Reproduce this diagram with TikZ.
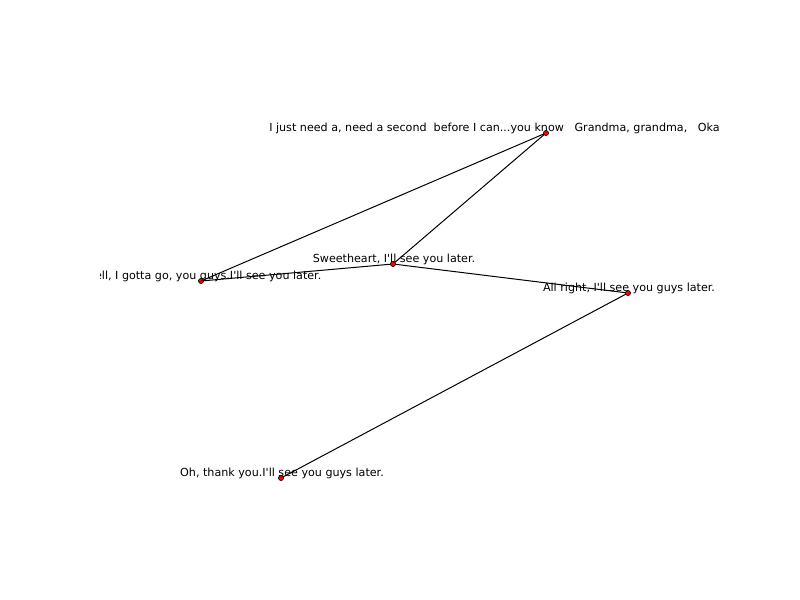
\documentclass[tikz,border=0pt]{standalone}
\usepackage{fontspec}
\setmainfont{DejaVu Sans}[Ligatures = TeXOff]
\begin{document}
\begin{tikzpicture}[x = 0.75pt, y = -0.75pt]
  \tikzset{
    dot/.style = {circle, draw = black, fill = red, inner sep = 0pt, minimum size = 3.8pt, line width = 0.5pt},
    txt/.style = {font = \fontsize{8.35}{10}\selectfont, inner sep = 0pt}
  }
  \useasboundingbox (0, 0) rectangle (800, 600);
  \clip (100, 72) rectangle (720, 534);

  \coordinate (A) at (546, 133);
  \coordinate (B) at (393, 264);
  \coordinate (C) at (201, 281);
  \coordinate (D) at (628, 293);
  \coordinate (E) at (281, 478);

  \draw[line width = 0.75pt] (A) -- (C);
  \draw[line width = 0.75pt] (A) -- (B);
  \draw[line width = 0.75pt] (B) -- (C);
  \draw[line width = 0.75pt] (B) -- (D);
  \draw[line width = 0.75pt] (D) -- (E);

  \node[dot] (a) at (A) {};
  \node[dot] (b) at (B) {};
  \node[dot] (c) at (C) {};
  \node[dot] (d) at (D) {};
  \node[dot] (e) at (E) {};

  \node[txt, anchor = west] (la) at (269, 128) {I just need a, need a second\ \ before I can...you know\ \ \ Grandma, grandma,\ \ \ Oka};
  \node[txt] (lb) at (394, 259) {Sweetheart, I'll see you later.};
  \node[txt] (lc) at (203, 276) {Well, I gotta go, you guys.I'll see you later.};
  \node[txt] (ld) at (629, 288) {All right, I'll see you guys later.};
  \node[txt] (le) at (282, 473) {Oh, thank you.I'll see you guys later.};
\end{tikzpicture}
\end{document}
